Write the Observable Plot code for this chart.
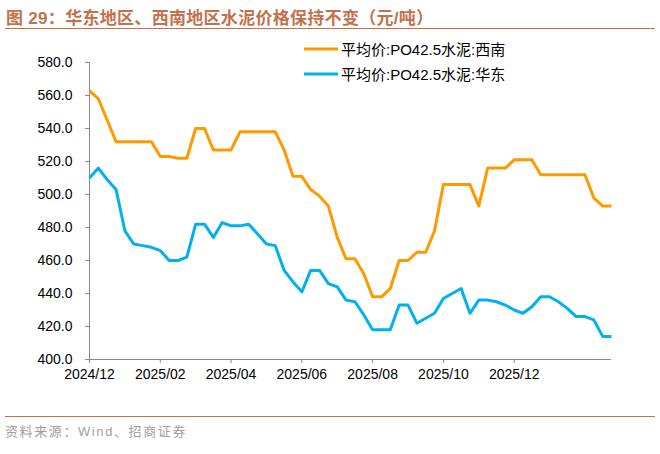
<!DOCTYPE html>
<html>
<head>
<meta charset="utf-8">
<script src="https://cdn.jsdelivr.net/npm/d3@7"></script>
<script src="https://cdn.jsdelivr.net/npm/@observablehq/plot@0.6"></script>
<style>
  html, body { margin: 0; padding: 0; background: #fff; }
  #wrap { position: relative; width: 660px; height: 454px; overflow: hidden;
          font-family: "Liberation Sans", Arial, "Noto Sans CJK SC", sans-serif; }
  #chart { position: absolute; left: 0; top: 0; }
  #title { position: absolute; left: 6px; top: 4px; font-size: 17px; font-weight: bold;
           color: #c3714d; letter-spacing: 0.3px; white-space: nowrap;
           font-family: "Liberation Sans", Arial, "Noto Sans CJK SC", sans-serif; }
  .hr { position: absolute; left: 5px; width: 650px; height: 1px; background: #c3714d; }
  #source { position: absolute; left: 5px; top: 421px; font-size: 13px; color: #a0a0a0;
            letter-spacing: 1.6px; white-space: nowrap; }
  .leg { position: absolute; left: 304px; font-size: 15px; color: #000; white-space: nowrap;
         display: flex; align-items: center; }
  .leg svg { margin-right: 3px; }
</style>
</head>
<body>
<div id="wrap">
  <div id="chart"></div>
  <div id="title"></div>
  <div class="hr" style="top:28px"></div>
  <div id="legend"></div>
  <div class="hr" style="top:416px"></div>
  <div id="source"></div>
</div>
<script>
const titleText = "图 29：华东地区、西南地区水泥价格保持不变（元/吨）";
const sourceText = "资料来源：Wind、招商证券";
const seriesNames = ["平均价:PO42.5水泥:西南", "平均价:PO42.5水泥:华东"];
const seriesColors = ["#ff9900", "#00b0f0"];

// 西南 (southwest) weekly price
const xinan = [563, 558, 545, 532, 532, 532, 532, 532, 523, 523,
               522, 522, 540, 540, 527, 527, 527, 538, 538, 538,
               538, 538, 527, 511, 511, 503, 499, 493, 474, 461,
               461, 452, 438, 438, 443, 460, 460, 465, 465, 478,
               506, 506, 506, 506, 493, 516, 516, 516, 521, 521,
               521, 512, 512, 512, 512, 512, 512, 498, 493, 493];
// 华东 (east) weekly price
const huadong = [510, 516, 509, 503, 478, 470, 469, 468, 466, 460,
                 460, 462, 482, 482, 474, 483, 481, 481, 482, 476,
                 470, 469, 454, 447, 441, 454, 454, 446, 444, 436,
                 435, 427, 418, 418, 418, 433, 433, 422, 425, 428,
                 437, 440, 443, 428, 436, 436, 435, 433, 430, 428,
                 432, 438, 438, 435, 431, 426, 426, 424, 414, 414];

// Category-axis labels: week index where each label sits, and its text
const xTickWeeks  = [0, 8, 16, 24, 32, 40, 48];
const xTickLabels = ["2024/12", "2025/02", "2025/04", "2025/06", "2025/08", "2025/10", "2025/12"];
const yTicks = [400, 420, 440, 460, 480, 500, 520, 540, 560, 580];

// ---- Build table ----
const rows = [];
[xinan, huadong].forEach((arr, s) => arr.forEach((v, i) => rows.push({week: i, value: v, series: seriesNames[s]})));

const axisColor = "#898989";
const chart = Plot.plot({
  width: 660,
  height: 454,
  marginLeft: 89,
  marginRight: 49,
  marginTop: 62,
  marginBottom: 95,
  style: {fontFamily: "'Liberation Sans', Arial, sans-serif", fontSize: "14px", color: "#000", background: "transparent", overflow: "visible"},
  x: {type: "linear", domain: [0, xinan.length - 1], axis: null},
  y: {domain: [400, 580], axis: null},
  color: {domain: seriesNames, range: seriesColors},
  marks: [
    Plot.axisY({ticks: yTicks, tickSize: 4, tickPadding: 13, tickFormat: d3.format(".1f"),
                stroke: axisColor, fill: "#000", label: null, fontSize: 14}),
    Plot.axisX({ticks: xTickWeeks, tickSize: 4, tickPadding: 6,
                tickFormat: d => xTickLabels[xTickWeeks.indexOf(d)],
                stroke: axisColor, fill: "#000", label: null, fontSize: 14}),
    Plot.ruleX([0], {stroke: axisColor, strokeWidth: 1}),
    Plot.ruleY([400], {stroke: axisColor, strokeWidth: 1}),
    Plot.line(rows, {x: "week", y: "value", z: "series", stroke: "series",
                     strokeWidth: 3, strokeLinejoin: "round", strokeLinecap: "butt"})
  ]
});
document.getElementById("chart").appendChild(chart);

document.getElementById("title").textContent = titleText;
document.getElementById("source").textContent = sourceText;

// Legend
const legend = document.getElementById("legend");
seriesNames.forEach((name, k) => {
  const div = document.createElement("div");
  div.className = "leg";
  div.style.top = (k === 0 ? 38 : 63) + "px";
  div.innerHTML = `<svg width="34" height="18"><line x1="0" x2="34" y1="9" y2="9" stroke="${seriesColors[k]}" stroke-width="3"/></svg><span>${name}</span>`;
  legend.appendChild(div);
});
</script>
</body>
</html>
